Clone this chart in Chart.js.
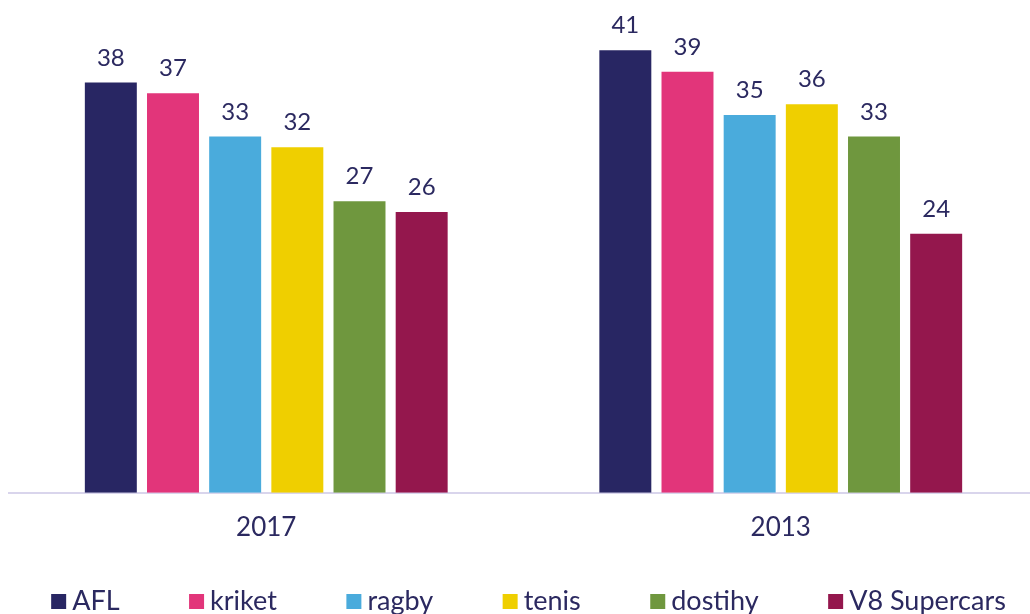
<!DOCTYPE html>
<html>
<head>
<meta charset="utf-8">
<script src="https://cdn.jsdelivr.net/npm/chart.js@4"></script>
<style>
 body{margin:0;overflow:hidden;background:#fff}
 #wrap{width:1030px;height:614px;overflow:hidden}
</style>
</head>
<body>
<div id="wrap"><canvas id="myChart" width="1040" height="614"></canvas></div>
<script>
var years = ["2017", "2013"];
var sports = ["AFL", "kriket", "ragby", "tenis", "dostihy", "V8 Supercars"];
var afl = [38, 41];
var kriket = [37, 39];
var ragby = [33, 35];
var tenis = [32, 36];
var dostihy = [27, 33];
var v8 = [26, 24];
var barColors = ["#282663", "#e2357a", "#4aabdc", "#efcf00", "#6f973e", "#94174d"];

var ink = "#2b2960";
var font = "Lato, 'DejaVu Sans', sans-serif";

// numbers above every bar
var valueLabels = {
  id: "valueLabels",
  afterDatasetsDraw(chart) {
    var ctx = chart.ctx;
    ctx.save();
    ctx.font = "24px " + font;
    ctx.fillStyle = ink;
    ctx.textAlign = "center";
    ctx.textBaseline = "alphabetic";
    chart.data.datasets.forEach(function (ds, i) {
      chart.getDatasetMeta(i).data.forEach(function (bar, j) {
        ctx.fillText(ds.data[j], bar.x, bar.y - 17);
      });
    });
    ctx.restore();
  }
};

// legend row along the bottom, wide gaps between items
var bottomLegend = {
  id: "bottomLegend",
  afterDraw(chart) {
    var ctx = chart.ctx;
    ctx.save();
    ctx.font = "27px " + font;
    ctx.textBaseline = "alphabetic";
    var box = 15, gapText = 6, gapItem = 69.5;
    var items = chart.data.datasets.map(function (ds) {
      return { text: ds.label, color: ds.backgroundColor, w: ctx.measureText(ds.label).width };
    });
    var total = 0;
    items.forEach(function (it, i) {
      total += box + gapText + it.w + (i < items.length - 1 ? gapItem : 0);
    });
    var x = 528.5 - total / 2;
    items.forEach(function (it) {
      ctx.fillStyle = it.color;
      ctx.fillRect(x, 594, box, box);
      ctx.fillStyle = ink;
      ctx.fillText(it.text, x + box + gapText, 610);
      x += box + gapText + it.w + gapItem;
    });
    ctx.restore();
  }
};

var lists = [afl, kriket, ragby, tenis, dostihy, v8];

new Chart("myChart", {
  type: "bar",
  data: {
    labels: years,
    datasets: sports.map(function (name, i) {
      return {
        label: name,
        data: lists[i],
        backgroundColor: barColors[i],
        categoryPercentage: 0.725,
        barPercentage: 0.836
      };
    })
  },
  options: {
    responsive: false,
    animation: false,
    layout: { padding: { top: 7, left: 9, right: 2, bottom: 52 } },
    plugins: {
      legend: { display: false },
      tooltip: { enabled: false }
    },
    scales: {
      y: { display: false, min: 0, max: 45 },
      x: {
        grid: { display: false, drawTicks: false },
        border: { color: "#d9d5ec", width: 2 },
        ticks: { color: ink, font: { family: font, size: 26 }, padding: 19 }
      }
    }
  },
  plugins: [valueLabels, bottomLegend]
});
</script>
</body>
</html>
